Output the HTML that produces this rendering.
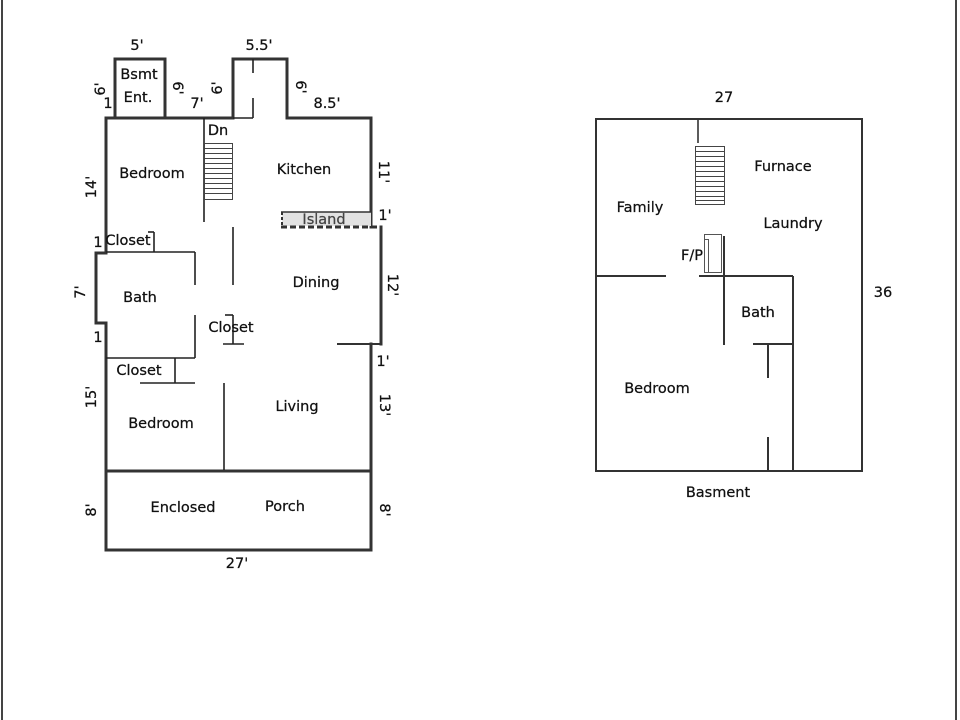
<!DOCTYPE html>
<html><head><meta charset="utf-8"><style>
html,body{margin:0;padding:0;background:#fff;}
svg{display:block;}
text{font-family:"DejaVu Sans","Liberation Sans",sans-serif;font-size:14.5px;fill:#111;stroke:#111;stroke-width:0.25;}
</style></head><body>
<svg width="960" height="720" viewBox="0 0 960 720" xmlns="http://www.w3.org/2000/svg">
<rect x="0" y="0" width="960" height="720" fill="#fff"/>
<!-- page borders -->
<line x1="2" y1="0" x2="2" y2="720" stroke="#444" stroke-width="2"/>
<line x1="956" y1="0" x2="956" y2="720" stroke="#444" stroke-width="2"/>

<!-- MAIN FLOOR thick walls -->
<g stroke="#333" stroke-width="3" fill="none" stroke-linecap="square">
<path d="M115,118 V59 H165 V118"/>
<path d="M106,118 H233 V59 H287 V118 H371 V227"/>
<path d="M106,118 V253 H96 V323 H106 V550 H371 V344"/>
<path d="M381,227 V344"/>
<line x1="106" y1="471" x2="371" y2="471"/>
</g>
<line x1="337" y1="344" x2="382" y2="344" stroke="#333" stroke-width="2"/>

<!-- island -->
<rect x="282" y="212" width="89" height="14" fill="#e2e2e2"/>
<line x1="281" y1="212" x2="371" y2="212" stroke="#333" stroke-width="1.5"/>
<line x1="282" y1="212" x2="282" y2="227" stroke="#333" stroke-width="2" stroke-dasharray="3,2"/>
<line x1="281" y1="227" x2="382" y2="227" stroke="#333" stroke-width="3" stroke-dasharray="6,3"/>

<!-- MAIN inner thin walls -->
<g stroke="#222" stroke-width="1.6" fill="none">
<line x1="253" y1="59" x2="253" y2="73"/>
<line x1="253" y1="98" x2="253" y2="118"/>
<line x1="233" y1="118" x2="253" y2="118"/>
<line x1="204" y1="118" x2="204" y2="222"/>
<line x1="233" y1="227" x2="233" y2="285"/>
<line x1="106" y1="252" x2="195" y2="252"/>
<line x1="154" y1="232" x2="154" y2="252"/>
<line x1="148" y1="232" x2="154" y2="232"/>
<line x1="195" y1="252" x2="195" y2="285"/>
<line x1="195" y1="315" x2="195" y2="358"/>
<line x1="106" y1="358" x2="195" y2="358"/>
<line x1="175" y1="358" x2="175" y2="383"/>
<line x1="140" y1="383" x2="195" y2="383"/>
<line x1="233" y1="315" x2="233" y2="344"/>
<line x1="225" y1="315" x2="233" y2="315"/>
<line x1="223" y1="344" x2="244" y2="344"/>
<line x1="224" y1="383" x2="224" y2="470"/>
</g>

<!-- main stairs -->
<g stroke="#444" stroke-width="1" fill="none">
<rect x="204.5" y="143.5" width="28" height="56"/>
<line x1="204" y1="148.5" x2="233" y2="148.5"/>
<line x1="204" y1="153.5" x2="233" y2="153.5"/>
<line x1="204" y1="158.5" x2="233" y2="158.5"/>
<line x1="204" y1="163.5" x2="233" y2="163.5"/>
<line x1="204" y1="168.5" x2="233" y2="168.5"/>
<line x1="204" y1="173.5" x2="233" y2="173.5"/>
<line x1="204" y1="178.5" x2="233" y2="178.5"/>
<line x1="204" y1="183.5" x2="233" y2="183.5"/>
<line x1="204" y1="188.5" x2="233" y2="188.5"/>
<line x1="204" y1="193.5" x2="233" y2="193.5"/>
</g>

<!-- MAIN labels -->
<g text-anchor="middle">
<text x="137" y="50">5'</text>
<text x="259" y="50">5.5'</text>
<text x="139" y="79">Bsmt</text>
<text x="138" y="102">Ent.</text>
<text x="108" y="108">1</text>
<text x="197" y="108">7'</text>
<text x="327" y="108">8.5'</text>
<text x="218" y="135">Dn</text>
<text x="152" y="178">Bedroom</text>
<text x="304" y="174">Kitchen</text>
<text x="324" y="224" style="fill:#444;stroke:#444">Island</text>
<text x="385" y="220">1'</text>
<text x="98" y="247">1</text>
<text x="128" y="245">Closet</text>
<text x="140" y="302">Bath</text>
<text x="316" y="287">Dining</text>
<text x="231" y="332">Closet</text>
<text x="98" y="342">1</text>
<text x="383" y="366">1'</text>
<text x="139" y="375">Closet</text>
<text x="297" y="411">Living</text>
<text x="161" y="428">Bedroom</text>
<text x="183" y="512">Enclosed</text>
<text x="285" y="511">Porch</text>
<text x="237" y="568">27'</text>
</g>
<!-- rotated labels -->
<g text-anchor="middle" dominant-baseline="central">
<text transform="translate(101,89) rotate(-90)">6'</text>
<text transform="translate(177,88) rotate(90)">6'</text>
<text transform="translate(218,88) rotate(-90)">6'</text>
<text transform="translate(300,87) rotate(90)">6'</text>
<text transform="translate(92,187) rotate(-90)">14'</text>
<text transform="translate(383,172) rotate(90)">11'</text>
<text transform="translate(81,292) rotate(-90)">7'</text>
<text transform="translate(392,285) rotate(90)">12'</text>
<text transform="translate(92,397) rotate(-90)">15'</text>
<text transform="translate(384,405) rotate(90)">13'</text>
<text transform="translate(92,510) rotate(-90)">8'</text>
<text transform="translate(384,510) rotate(90)">8'</text>
</g>

<!-- BASEMENT -->
<g stroke="#333" stroke-width="2" fill="none">
<rect x="596" y="119" width="266" height="352"/>
<line x1="596" y1="276" x2="666" y2="276"/>
<line x1="699" y1="276" x2="793" y2="276"/>
<line x1="793" y1="276" x2="793" y2="471"/>
<line x1="724" y1="236" x2="724" y2="345"/>
<line x1="753" y1="344" x2="793" y2="344"/>
<line x1="768" y1="344" x2="768" y2="378"/>
<line x1="768" y1="437" x2="768" y2="471"/>
</g>
<line x1="698" y1="119" x2="698" y2="143" stroke="#333" stroke-width="1.6"/>
<!-- basement stairs -->
<g stroke="#444" stroke-width="1" fill="none">
<rect x="695.5" y="146.5" width="29" height="58"/>
<line x1="695" y1="151.5" x2="725" y2="151.5"/>
<line x1="695" y1="156.5" x2="725" y2="156.5"/>
<line x1="695" y1="161.5" x2="725" y2="161.5"/>
<line x1="695" y1="166.5" x2="725" y2="166.5"/>
<line x1="695" y1="171.5" x2="725" y2="171.5"/>
<line x1="695" y1="176.5" x2="725" y2="176.5"/>
<line x1="695" y1="181.5" x2="725" y2="181.5"/>
<line x1="695" y1="186.5" x2="725" y2="186.5"/>
<line x1="695" y1="191.5" x2="725" y2="191.5"/>
<line x1="695" y1="196.5" x2="725" y2="196.5"/>
<line x1="695" y1="200.5" x2="725" y2="200.5"/>
</g>
<!-- F/P -->
<g stroke="#555" stroke-width="1" fill="none">
<rect x="704.5" y="234.5" width="17" height="38"/>
<path d="M704,239.5 H708.5 V272.5 H704"/>
</g>
<g text-anchor="middle">
<text x="724" y="102">27</text>
<text x="783" y="171">Furnace</text>
<text x="640" y="212">Family</text>
<text x="793" y="228">Laundry</text>
<text x="692" y="260">F/P</text>
<text x="883" y="297">36</text>
<text x="758" y="317">Bath</text>
<text x="657" y="393">Bedroom</text>
<text x="718" y="497">Basment</text>
</g>
</svg>
</body></html>
